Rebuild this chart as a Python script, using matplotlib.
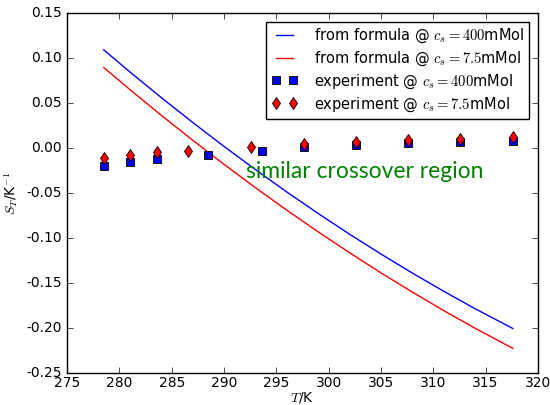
import matplotlib
matplotlib.use('Agg')
import matplotlib.pyplot as plt

# formula curves
T_formula = [278.5, 281, 284, 287, 290, 293, 296, 299, 302, 305, 308, 311, 314, 317.6]
S_formula_400 = [0.109, 0.0845, 0.0560, 0.0284, 0.0017, -0.0240, -0.0489, -0.0728,
                 -0.0958, -0.1178, -0.1390, -0.1592, -0.1786, -0.2005]
S_formula_75 = [0.0894, 0.0649, 0.0363, 0.0086, -0.0182, -0.0441, -0.0691, -0.0932,
                -0.1164, -0.1388, -0.1601, -0.1807, -0.2003, -0.2226]

# experiment points
T_exp_400 = [278.5, 281.0, 283.6, 288.5, 293.6, 297.6, 302.6, 307.6, 312.6, 317.6]
S_exp_400 = [-0.0204, -0.0159, -0.0126, -0.0081, -0.0030, 0.0011, 0.0030, 0.0052, 0.0067, 0.0078]
T_exp_75 = [278.5, 281.0, 283.6, 286.6, 292.6, 297.6, 302.6, 307.6, 312.6, 317.6]
S_exp_75 = [-0.0115, -0.0074, -0.0048, -0.0030, 0.0015, 0.0044, 0.0070, 0.0089, 0.0100, 0.0122]

plt.style.use('classic')
plt.rcParams['mathtext.fontset'] = 'cm'
plt.rcParams['font.size'] = 10

fig = plt.figure(figsize=(5.5, 4.05), dpi=100, facecolor='white')
ax = fig.add_axes([0.122, 0.079, 0.856, 0.889])

ax.plot(T_formula, S_formula_400, 'b-', lw=1, label=r'from formula @ $c_s=400$mMol')
ax.plot(T_formula, S_formula_75, 'r-', lw=1, label=r'from formula @ $c_s=7.5$mMol')
ax.plot(T_exp_400, S_exp_400, 'bs', ms=6, mec='k', mew=0.6, ls='none',
        label=r'experiment @ $c_s=400$mMol')
ax.plot(T_exp_75, S_exp_75, 'rd', ms=6, mec='k', mew=0.6, ls='none',
        label=r'experiment @ $c_s=7.5$mMol')

ax.text(292.1, -0.026, 'similar crossover region', color='green', fontsize=16.5,
        family='Lato', va='center', ha='left')

ax.set_xlim(275, 320)
ax.set_ylim(-0.25, 0.15)
ax.set_xticks(range(275, 321, 5))
ax.set_yticks([-0.25, -0.20, -0.15, -0.10, -0.05, 0.00, 0.05, 0.10, 0.15])
ax.set_yticklabels(['%.2f' % v for v in ax.get_yticks()])
ax.tick_params(labelsize=10)
ax.tick_params(axis='x', pad=2)
ax.set_xlabel(r'$T$/K', fontsize=10, labelpad=0)
ax.set_ylabel(r'$S_T$/K$^{-1}$', fontsize=10, labelpad=4)

ax.legend(loc='upper right', numpoints=2, fontsize=10.5, borderaxespad=0.6,
          handlelength=1.8, handletextpad=1.1, labelspacing=0.3, borderpad=0.35)

fig.savefig('out.png', dpi=100, facecolor='white')
